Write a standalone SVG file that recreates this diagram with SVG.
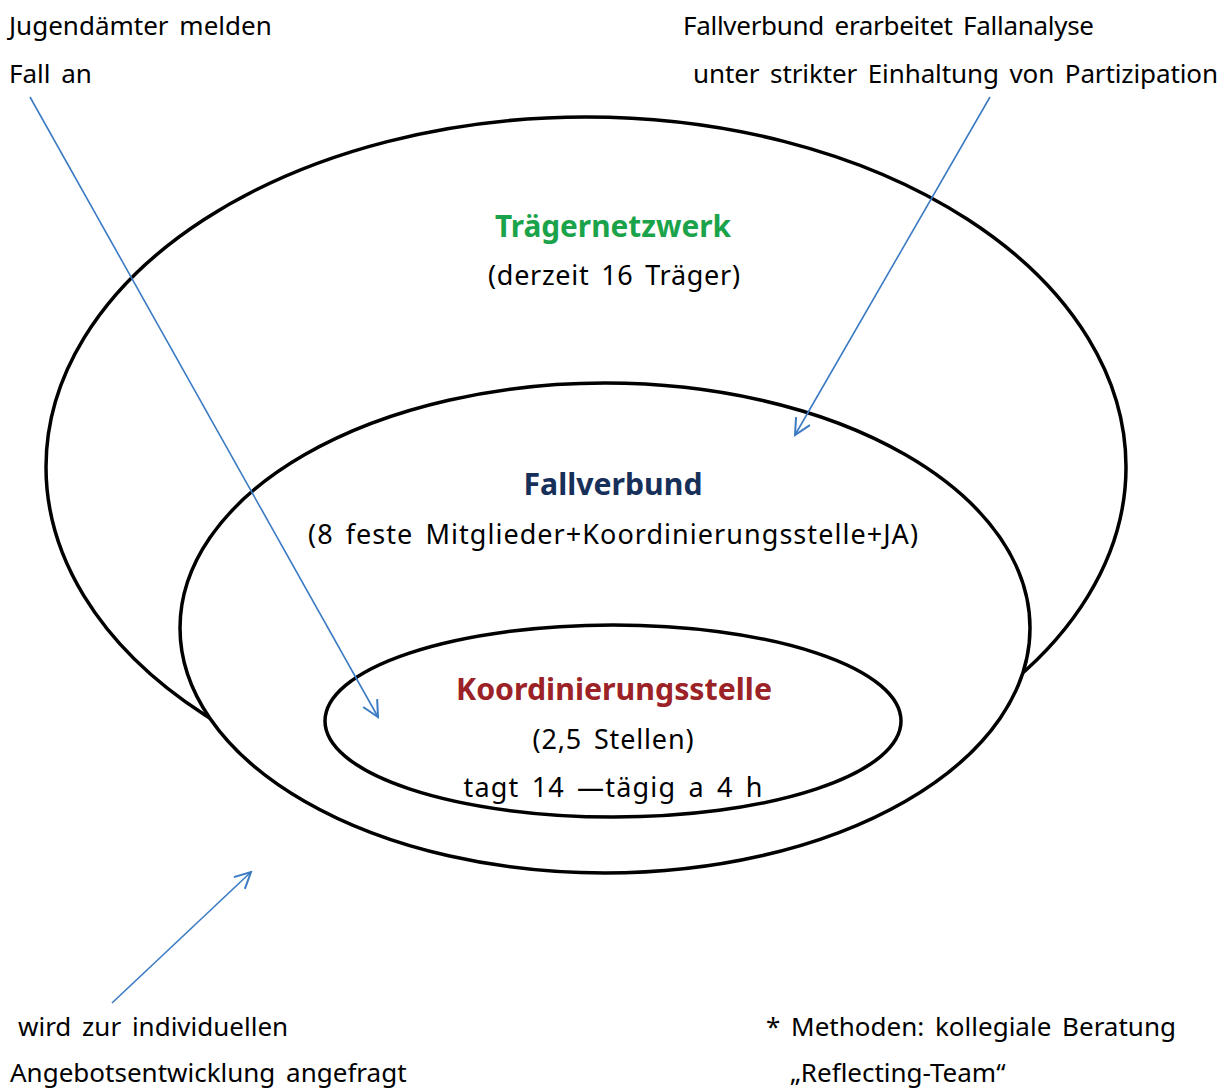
<svg xmlns="http://www.w3.org/2000/svg" width="1230" height="1088" viewBox="0 0 1230 1088">
<defs>
<style>
.ring{fill:#fff;stroke:#000;stroke-width:3.5}
.t{font-family:"Noto Sans","Open Sans","Liberation Sans",sans-serif;font-size:26px;fill:#000;word-spacing:4px}
.m{font-size:27px}
.h{font-family:"Noto Sans","Open Sans","Liberation Sans",sans-serif;font-size:30px;font-weight:bold;text-anchor:middle}
.c{text-anchor:middle}
.arr{stroke:#3b7bc4;stroke-width:1.6;fill:none}
</style>
<marker id="ah" viewBox="0 0 20 20" refX="18" refY="10" markerWidth="20" markerHeight="20" markerUnits="userSpaceOnUse" orient="auto">
<path d="M2,2 L18,10 L2,18" fill="none" stroke="#3b7bc4" stroke-width="2"/>
</marker>
</defs>
<rect width="1230" height="1088" fill="#fff"/>
<g id="traegernetzwerk">
<ellipse class="ring" cx="586" cy="467" rx="540" ry="350"/>
<text class="h" x="613" y="237" fill="#1aa34a" textLength="236" lengthAdjust="spacingAndGlyphs">Trägernetzwerk</text>
<text class="t m c" x="614" y="285" textLength="252" lengthAdjust="spacing">(derzeit 16 Träger)</text>
</g>
<g id="fallverbund">
<ellipse class="ring" cx="605" cy="628" rx="425" ry="245"/>
<text class="h" x="613" y="495" fill="#17305a" textLength="179" lengthAdjust="spacingAndGlyphs">Fallverbund</text>
<text class="t m c" x="613" y="544" textLength="610" lengthAdjust="spacing">(8 feste Mitglieder+Koordinierungsstelle+JA)</text>
</g>
<g id="koordinierungsstelle">
<ellipse class="ring" cx="613" cy="721" rx="288" ry="96"/>
<text class="h" x="614" y="700" fill="#9b2226" textLength="316" lengthAdjust="spacingAndGlyphs">Koordinierungsstelle</text>
<text class="t m c" x="613" y="749" textLength="161" lengthAdjust="spacing">(2,5 Stellen)</text>
<text class="t m c" x="613" y="797" textLength="299" lengthAdjust="spacing">tagt 14 —tägig a 4 h</text>
</g>
<g id="labels">
<text class="t" x="9" y="35">Jugendämter melden</text>
<text class="t" x="9" y="83">Fall an</text>
<text class="t" x="683" y="35" textLength="411" lengthAdjust="spacing">Fallverbund erarbeitet Fallanalyse</text>
<text class="t" x="693" y="83" textLength="525" lengthAdjust="spacing">unter strikter Einhaltung von Partizipation</text>
<text class="t" x="18" y="1036">wird zur individuellen</text>
<text class="t" x="10" y="1082">Angebotsentwicklung angefragt</text>
<text class="t" x="766" y="1036">* Methoden: kollegiale Beratung</text>
<text class="t" x="790" y="1082">„Reflecting-Team“</text>
</g>
<g id="connectors">
<line class="arr" x1="30" y1="97" x2="378" y2="717" marker-end="url(#ah)"/>
<line class="arr" x1="990" y1="97" x2="795" y2="435" marker-end="url(#ah)"/>
<line class="arr" x1="112" y1="1003" x2="251" y2="872" marker-end="url(#ah)"/>
</g>
</svg>
